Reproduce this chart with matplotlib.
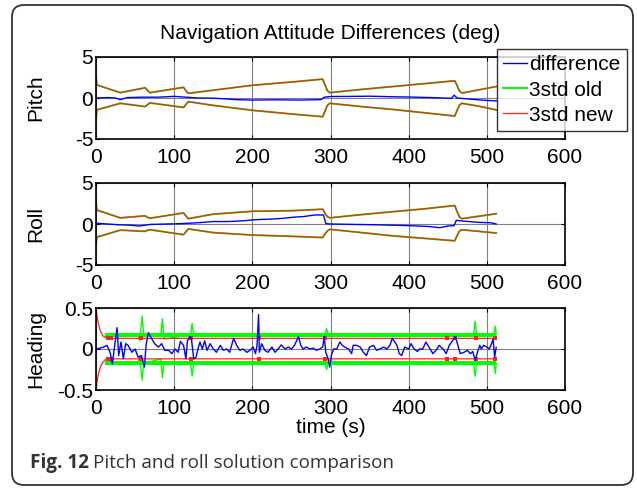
import numpy as np
import matplotlib
matplotlib.use("Agg")
import matplotlib.pyplot as plt
from matplotlib.patches import FancyBboxPatch
from matplotlib.transforms import IdentityTransform

plt.rcParams['font.family'] = ['Liberation Sans', 'DejaVu Sans']
plt.rcParams['axes.unicode_minus'] = False

# ---- data ----
x_ticks = [0, 100, 200, 300, 400, 500, 600]

# pitch: 3-sigma envelopes (old and new coincide) and difference
pitch_t = [0, 1, 31, 63, 66, 69, 112, 115, 118, 150, 200, 250, 290, 293, 296, 299, 340, 380, 420, 459, 462, 465, 468, 490, 512]
pitch_up = [2.8, 1.6, 0.65, 1.25, 0.9, 0.65, 1.3, 0.9, 0.57, 0.95, 1.55, 1.95, 2.3, 1.6, 0.9, 0.65, 1.05, 1.4, 1.75, 2.1, 1.5, 0.85, 0.6, 1.0, 1.4]
pitch_lo = [-2.8, -1.45, -0.65, -1.05, -0.8, -0.6, -1.15, -0.8, -0.45, -0.9, -1.5, -1.95, -2.28, -1.6, -0.9, -0.65, -1.05, -1.4, -1.8, -2.2, -1.5, -0.85, -0.65, -1.0, -1.45]
pitch_diff_t = [0, 15, 25, 31, 40, 60, 80, 100, 115, 130, 150, 180, 200, 230, 260, 288, 292, 300, 330, 350, 380, 400, 430, 455, 458, 462, 480, 500, 512]
pitch_diff = [0.0, 0.05, 0.0, -0.2, 0.05, 0.1, 0.1, 0.2, 0.1, 0.0, -0.02, -0.2, -0.25, -0.22, -0.25, -0.2, 0.1, 0.18, 0.2, 0.22, 0.15, 0.12, 0.05, -0.04, 0.35, 0.0, -0.15, -0.3, -0.35]

# roll
roll_t = [0, 1, 31, 63, 66, 69, 112, 115, 118, 150, 200, 250, 290, 293, 296, 299, 340, 380, 420, 459, 462, 465, 468, 490, 512]
roll_up = [2.8, 1.7, 0.75, 1.0, 0.8, 0.7, 1.35, 1.0, 0.65, 1.2, 1.55, 1.62, 1.8, 1.3, 0.9, 0.75, 1.15, 1.5, 1.85, 2.25, 1.5, 0.85, 0.65, 0.95, 1.25]
roll_lo = [-2.8, -1.6, -0.75, -0.9, -0.75, -0.7, -1.3, -0.95, -0.6, -1.05, -1.35, -1.5, -1.65, -1.2, -0.85, -0.65, -1.05, -1.45, -1.75, -2.05, -1.4, -0.85, -0.7, -0.9, -1.1]
roll_diff_t = [0, 15, 30, 45, 55, 70, 90, 110, 130, 150, 170, 190, 200, 210, 225, 240, 255, 265, 280, 291, 294, 300, 330, 360, 400, 425, 440, 450, 458, 461, 470, 490, 505, 512]
roll_diff = [0.1, 0.0, -0.1, -0.15, -0.25, -0.05, 0.0, 0.05, 0.15, 0.3, 0.3, 0.4, 0.5, 0.55, 0.6, 0.7, 0.85, 0.9, 1.1, 1.1, 0.05, 0.0, -0.05, -0.1, -0.2, -0.3, -0.45, -0.25, -0.2, 0.45, 0.35, 0.2, 0.15, 0.0]

# heading difference
heading_t = [0, 9, 14, 18, 21, 24, 27, 29, 32, 35, 38, 41, 46, 50, 54, 58, 62, 64, 67, 71,
             75, 80, 84, 88, 93, 97, 101, 105, 108, 112, 115, 117, 120, 122, 125, 128, 131, 133, 136, 139,
             142, 146, 150, 154, 159, 163, 167, 171, 176, 180, 184, 188, 193, 197, 201, 204, 206, 208, 209, 212,
             216, 220, 225, 229, 233, 237, 242, 246, 250, 254, 259, 262, 265, 269, 274, 278, 282, 286, 290, 292,
             294, 297, 299, 301, 304, 308, 312, 315, 318, 323, 327, 329, 333, 338, 342, 346, 350, 355, 359, 363,
             368, 372, 376, 379, 385, 388, 391, 395, 400, 403, 407, 411, 414, 418, 422, 426, 431, 435, 439, 444,
             448, 452, 456, 460, 463, 466, 471, 475, 479, 482, 485, 488, 491, 493, 496, 500, 503, 506, 508, 510,
             512]
heading_diff = [0.0, 0.02, 0.045, -0.04, -0.18, 0.05, 0.26, -0.08, 0.085, -0.12, 0.065, 0.045, -0.04, 0.0, -0.1, -0.08, -0.22, 0.045, 0.2, 0.13,
                0.065, 0.024, 0.065, -0.016, -0.016, -0.057, 0.0, -0.04, 0.093, 0.045, -0.12, 0.1, 0.15, 0.13, -0.12, -0.1, 0.02, 0.085, 0.0, 0.1,
                -0.016, 0.065, 0.0, -0.04, 0.045, -0.016, 0.0, -0.04, 0.13, 0.045, -0.016, 0.0, -0.04, -0.016, 0.024, -0.057, 0.045, 0.42, -0.04, 0.065,
                -0.016, -0.04, 0.024, -0.04, 0.0, 0.05, 0.0, 0.024, 0.0, 0.045, 0.15, 0.045, 0.0, 0.024, 0.0, 0.01, -0.016, 0.0, 0.024, 0.15,
                -0.04, -0.12, -0.22, -0.08, 0.0, 0.0, 0.085, 0.045, 0.024, 0.0, -0.057, 0.045, 0.045, 0.024, -0.04, -0.08, 0.024, 0.045, -0.016, 0.0,
                0.024, 0.0, 0.045, 0.13, 0.045, -0.057, -0.08, 0.024, 0.0, 0.065, 0.0, -0.03, 0.0, 0.0, 0.085, 0.024, -0.057, -0.016, 0.045, 0.0,
                -0.057, 0.045, 0.1, 0.146, 0.045, -0.057, -0.04, -0.016, -0.057, -0.03, -0.14, -0.04, 0.045, 0.0, 0.045, 0.024, 0.0, 0.065, 0.12, -0.1,
                0.02]

# heading 3std new (red)
heading_new_t = [0, 2, 4, 6, 9, 12, 16, 512]
heading_new_up = [0.5, 0.36, 0.27, 0.21, 0.16, 0.14, 0.13, 0.13]
heading_new_lo = [-0.5, -0.36, -0.27, -0.21, -0.16, -0.13, -0.12, -0.12]
heading_new_marks = [15, 19, 57, 122, 209, 293, 449, 459, 486, 511]

# heading 3std old (green): noisy band plus spikes
heading_old_band = (12, 512)
heading_old_band_up = (0.15, 0.2)
heading_old_band_lo = (-0.2, -0.15)
heading_old_t = [12, 53, 56, 59, 61, 83, 85, 87, 121, 123, 125, 293, 295, 297, 483, 485, 487, 509, 511, 512]
heading_old_up = [0.175, 0.175, 0.1, 0.4, 0.175, 0.175, 0.37, 0.12, 0.175, 0.31, 0.175, 0.175, 0.25, 0.175, 0.175, 0.34, 0.175, 0.175, 0.28, 0.175]
heading_old_lo = [-0.175, -0.175, -0.1, -0.38, -0.175, -0.12, -0.35, -0.175, -0.175, -0.33, -0.175, -0.175, -0.25, -0.175, -0.175, -0.33, -0.175, -0.175, -0.3, -0.175]

# ---- figure ----
W, H = 637, 491
fig = plt.figure(figsize=(W / 100, H / 100), dpi=100)

FS = 15
BLUE, GREEN, RED = '#0000ff', '#00ff00', '#ff2020'


def px_axes(left, top, right, bottom):
    return fig.add_axes([left / W, 1 - bottom / H, (right - left) / W, (bottom - top) / H])


def style(ax, ylim, yticks, yticklabels, ylabel):
    ax.set_xlim(0, 600)
    ax.set_ylim(*ylim)
    ax.set_xticks(x_ticks)
    ax.set_xticklabels([str(v) for v in x_ticks])
    ax.set_yticks(yticks)
    ax.set_yticklabels(yticklabels)
    ax.tick_params(direction='in', length=3, width=0.8, labelsize=FS,
                   top=True, right=True)
    ax.tick_params(axis='x', pad=6.5)
    ax.tick_params(axis='y', pad=2)
    ax.grid(True, color='#808080', lw=0.8)
    ax.set_axisbelow(True)
    for s in ax.spines.values():
        s.set_linewidth(1.2)
    ax.set_ylabel(ylabel, fontsize=FS)
    ax.yaxis.set_label_coords(-0.109, 0.5)


ax1 = px_axes(96, 57, 565, 139)
ax2 = px_axes(96, 183, 565, 265)
ax3 = px_axes(96, 308, 565, 390)

# pitch
l1, = ax1.plot(pitch_diff_t, pitch_diff, color=BLUE, lw=1.0, label='difference')
l2, = ax1.plot(pitch_t, pitch_up, color=GREEN, lw=1.4, label='3std old')
ax1.plot(pitch_t, pitch_lo, color=GREEN, lw=1.4)
l3, = ax1.plot(pitch_t, pitch_up, color=RED, lw=0.9, label='3std new')
ax1.plot(pitch_t, pitch_lo, color=RED, lw=0.9)
style(ax1, (-5, 5), [-5, 0, 5], ['-5', '0', '5'], 'Pitch')
ax1.set_title('Navigation Attitude Differences (deg)', fontsize=FS, pad=13)

# roll
ax2.plot(roll_diff_t, roll_diff, color=BLUE, lw=1.0)
ax2.plot(roll_t, roll_up, color=GREEN, lw=1.4)
ax2.plot(roll_t, roll_lo, color=GREEN, lw=1.4)
ax2.plot(roll_t, roll_up, color=RED, lw=0.9)
ax2.plot(roll_t, roll_lo, color=RED, lw=0.9)
style(ax2, (-5, 5), [-5, 0, 5], ['-5', '0', '5'], 'Roll')

# heading
ax3.fill_between(heading_old_band, *heading_old_band_up, color=GREEN, lw=0)
ax3.fill_between(heading_old_band, *heading_old_band_lo, color=GREEN, lw=0)
ax3.plot(heading_old_t, heading_old_up, color=GREEN, lw=1.0)
ax3.plot(heading_old_t, heading_old_lo, color=GREEN, lw=1.0)
ax3.plot(heading_new_t, heading_new_up, color=RED, lw=0.9)
ax3.plot(heading_new_t, heading_new_lo, color=RED, lw=0.9)
mk = np.interp(heading_new_marks, heading_new_t, heading_new_up)
ax3.plot(heading_new_marks, mk, 's', color=RED, ms=3, mew=0)
mk = np.interp(heading_new_marks, heading_new_t, heading_new_lo)
ax3.plot(heading_new_marks, mk, 's', color=RED, ms=3, mew=0)
ax3.plot(heading_t, heading_diff, color=BLUE, lw=1.0, zorder=5)
style(ax3, (-0.5, 0.5), [-0.5, 0, 0.5], ['-0.5', '0', '0.5'], 'Heading')
ax3.set_xlabel('time (s)', fontsize=FS, labelpad=0)

leg = fig.legend([l1, l2, l3], ['difference', '3std old', '3std new'],
                 loc='upper left', bbox_to_anchor=(497 / W, 1 - 49 / H),
                 fontsize=FS, frameon=True, fancybox=False, handlelength=1.15,
                 handletextpad=0.1, borderpad=0.3, labelspacing=0.3,
                 borderaxespad=0)
leg.get_frame().set_edgecolor('black')
leg.get_frame().set_linewidth(1.0)

# rounded outer frame
frame = FancyBboxPatch((12, 6), 621, 480, boxstyle='round,pad=0,rounding_size=12',
                       transform=IdentityTransform(), facecolor='none',
                       edgecolor='#333333', lw=1.3)
fig.add_artist(frame)

# caption
t1 = fig.text(30 / W, 1 - 463 / H, 'Fig. 12', fontsize=13.6, fontweight='bold',
              family='Open Sans', va='center', color='#333333')
fig.canvas.draw()
bb = t1.get_window_extent()
fig.text((bb.x1 + 4) / W, 1 - 463 / H, 'Pitch and roll solution comparison',
         fontsize=13.6, family='Open Sans', va='center', color='#333333')

fig.savefig('out.png', dpi=100)
